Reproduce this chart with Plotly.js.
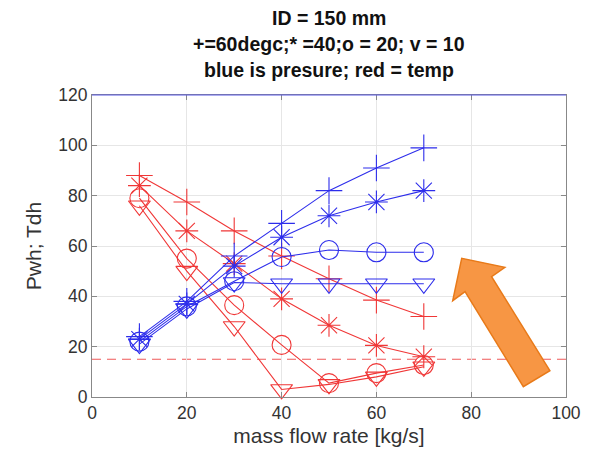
<!DOCTYPE html>
<html><head><meta charset="utf-8">
<script src="https://cdn.plot.ly/plotly-3.0.1.min.js"></script>
<style>html,body{margin:0;padding:0;background:#fff}#c{width:592px;height:462px}</style>
</head><body><div id="c"></div>
<script>
var massFlow = [10, 20, 30, 40, 50, 60, 70];
// pressure (blue)
var p60 = [24, 38, 56, 69, 82, 91, 99];
var p40 = [23, 37, 52, 63.5, 72, 77.5, 82];
var p20 = [22, 36, 46, 55.6, 58.4, 57.5, 57.5];
var p10 = [21, 35, 45.5, 45, 45, 45, 45];
// temperature (red)
var t60 = [88, 77.5, 66, 56, 47, 38.5, 32];
var t40 = [84, 66, 53, 39, 28.5, 20.5, 16];
var t20 = [79, 55, 36.5, 20.7, 5.5, 9.5, 12.7];
var t10 = [76, 50, 28, 3, 5, 8, 12];
var threshold = 15;
var xTicks = [0, 20, 40, 60, 80, 100];
var yTicks = [0, 20, 40, 60, 80, 100, 120];
var titleLines = ['ID = 150 mm', '+=60degc;* =40;o = 20; v = 10', 'blue is presure; red = temp'];

var blue = 'rgb(45,45,235)', red = 'rgb(240,55,55)';
function tr(y, col, sym) {
  return {x: massFlow, y: y, type: 'scatter', mode: 'lines+markers',
    line: {color: col, width: 1.1},
    marker: {symbol: sym, size: 19, color: col, line: {color: col, width: 1.1}},
    showlegend: false, cliponaxis: false};
}
var data = [
  tr(t60, red, 'cross-thin-open'), tr(t40, red, 'asterisk-open'),
  tr(t20, red, 'circle-open'), tr(t10, red, 'triangle-down-open'),
  tr(p60, blue, 'cross-thin-open'), tr(p40, blue, 'asterisk-open'),
  tr(p20, blue, 'circle-open'), tr(p10, blue, 'triangle-down-open')
];
var FONT = 'Liberation Sans, Arial';
var axStyle = {showgrid: true, gridcolor: '#e6e6e6', zeroline: false,
  showline: true, linecolor: '#888', linewidth: 1, mirror: 'ticks',
  ticks: 'inside', ticklen: 5, tickcolor: '#888',
  tickfont: {family: FONT, size: 17.5, color: '#333'}};
var titleY = [1.255, 1.169, 1.083];
var annotations = titleLines.map(function (t, i) {
  return {text: '<b>' + t + '</b>', xref: 'paper', yref: 'paper', x: 0.5, y: titleY[i],
    xanchor: 'center', yanchor: 'middle', showarrow: false,
    font: {family: FONT, size: 19.5, color: '#111'}};
});
var layout = {
  width: 592, height: 462,
  margin: {l: 92, r: 26, t: 95, b: 65},
  paper_bgcolor: '#fff', plot_bgcolor: '#fff',
  annotations: annotations,
  xaxis: Object.assign({}, axStyle, {range: [0, 100], tickvals: xTicks,
    title: {text: 'mass flow rate [kg/s]', font: {family: FONT, size: 21, color: '#333'}, standoff: 6}}),
  yaxis: Object.assign({}, axStyle, {range: [0, 120], tickvals: yTicks,
    title: {text: 'Pwh; Tdh', font: {family: FONT, size: 21, color: '#333'}, standoff: 10}}),
  shapes: [
    {type: 'line', xref: 'paper', yref: 'y', x0: 0, x1: 1, y0: threshold, y1: threshold,
      line: {color: 'rgb(240,90,90)', width: 1.2, dash: '9px,6px'}, layer: 'below'},
    {type: 'line', xref: 'paper', yref: 'paper', x0: 0, x1: 1, y0: 1, y1: 1,
      line: {color: 'rgb(90,90,230)', width: 1.2}},
    {type: 'path', xref: 'paper', yref: 'paper',
      path: 'M 0.780 0.4593 L 0.761 0.3189 L 0.787 0.3487 L 0.910 0.0342 L 0.966 0.0871 L 0.843 0.3984 L 0.871 0.4295 Z',
      fillcolor: 'rgb(247,150,68)', line: {color: 'rgb(232,122,25)', width: 1.5}}
  ]
};
Plotly.newPlot('c', data, layout, {displayModeBar: false, staticPlot: true});
</script></body></html>
